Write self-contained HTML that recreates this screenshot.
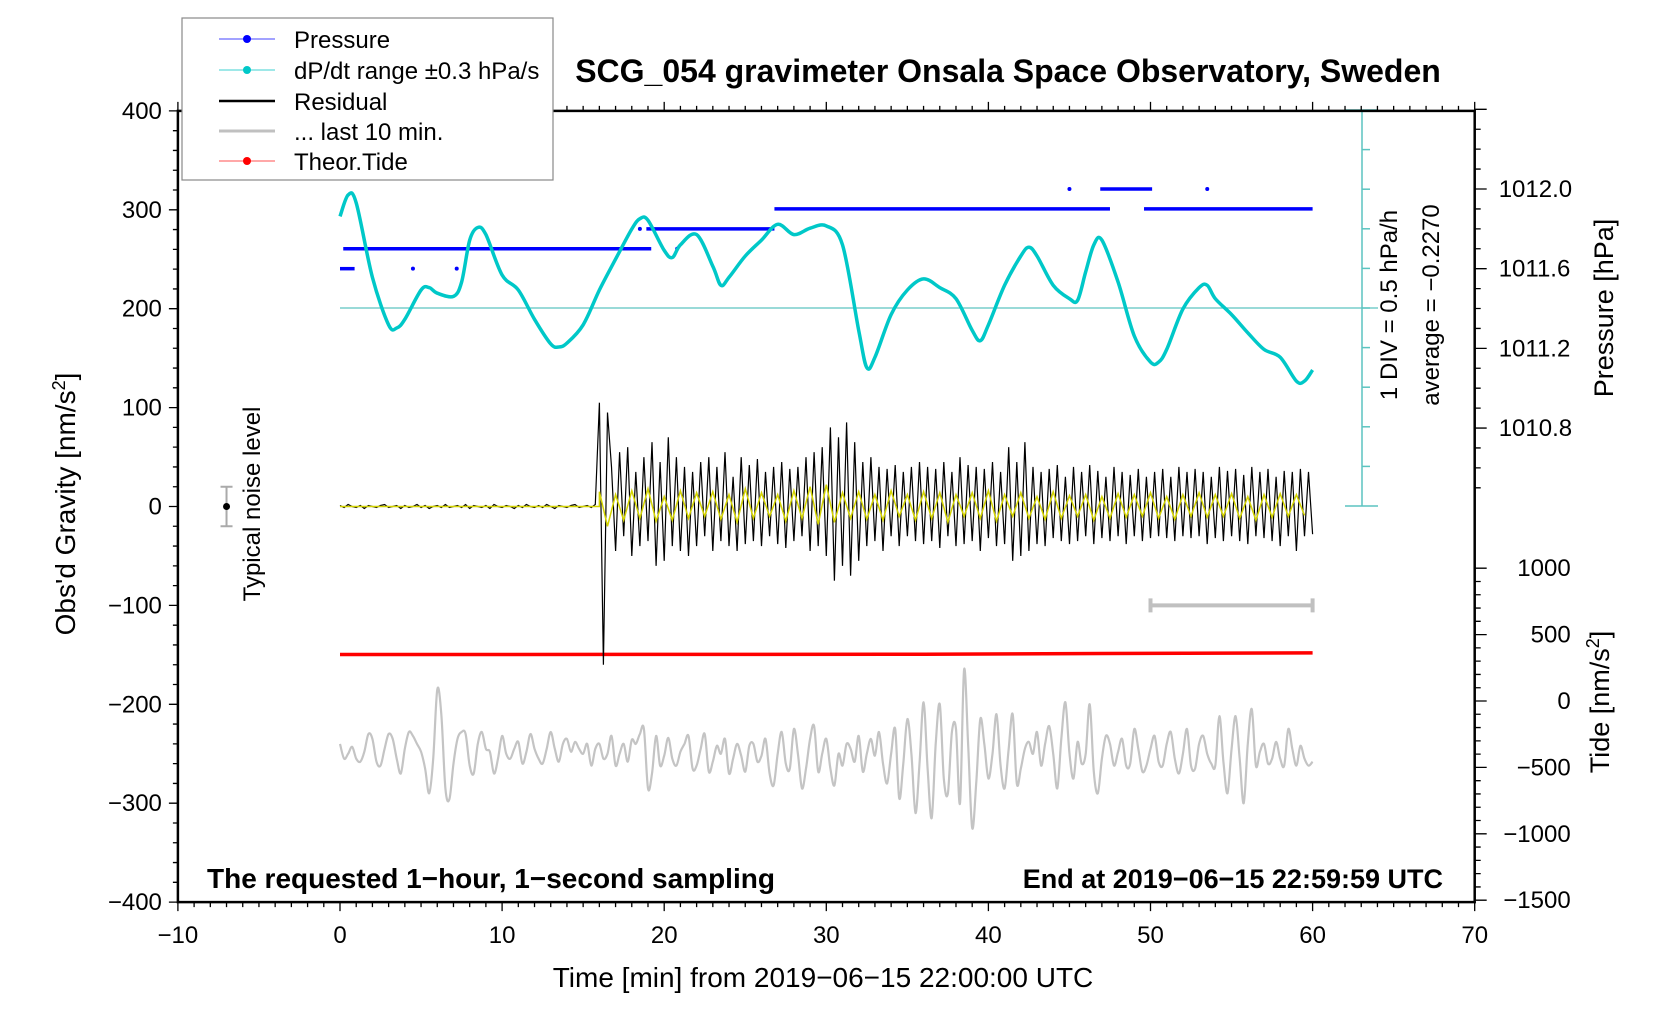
<!DOCTYPE html>
<html><head><meta charset="utf-8"><style>
html,body{margin:0;padding:0;background:#fff;}
svg{display:block;font-family:"Liberation Sans",Arial,sans-serif;}
</style></head><body>
<svg id="chart" width="1676" height="1020" viewBox="0 0 1676 1020" xmlns="http://www.w3.org/2000/svg">
<rect x="0" y="0" width="1676" height="1020" fill="#fff"/>
<g id="marks"></g>
<g id="axes"></g>
<text x="1008" y="82" text-anchor="middle" font-size="32" font-weight="bold">SCG_054 gravimeter Onsala Space Observatory, Sweden</text>
<text x="207" y="888" font-size="28" font-weight="bold">The requested 1−hour, 1−second sampling</text>
<text x="1443" y="888" text-anchor="end" font-size="27" font-weight="bold">End at 2019−06−15 22:59:59 UTC</text>
<text x="823" y="987" text-anchor="middle" font-size="28">Time [min] from 2019−06−15 22:00:00 UTC</text>
<text transform="translate(75,504) rotate(-90)" text-anchor="middle" font-size="28">Obs'd Gravity [nm/s<tspan baseline-shift="super" font-size="18">2</tspan>]</text>
<text transform="translate(260,504) rotate(-90)" text-anchor="middle" font-size="24">Typical noise level</text>
<text transform="translate(1613,308) rotate(-90)" text-anchor="middle" font-size="27">Pressure [hPa]</text>
<text transform="translate(1609,702) rotate(-90)" text-anchor="middle" font-size="27">Tide [nm/s<tspan baseline-shift="super" font-size="18">2</tspan>]</text>
<text transform="translate(1397,305) rotate(-90)" text-anchor="middle" font-size="24">1 DIV = 0.5 hPa/h</text>
<text transform="translate(1439,305) rotate(-90)" text-anchor="middle" font-size="24">average = −0.2270</text>
<g>
<rect x="182" y="18" width="371" height="162" fill="#fff" stroke="#888" stroke-width="1.2"/>
<line x1="219" y1="39" x2="275" y2="39" stroke="#4646ff" stroke-width="1"/><circle cx="247" cy="39" r="4" fill="#0000ff"/>
<text x="294" y="48" font-size="24">Pressure</text>
<line x1="219" y1="70" x2="275" y2="70" stroke="#3cd2d2" stroke-width="1"/><circle cx="247" cy="70" r="4" fill="#00c8c8"/>
<text x="294" y="79" font-size="24">dP/dt range ±0.3 hPa/s</text>
<line x1="219" y1="101" x2="275" y2="101" stroke="#000" stroke-width="2.5"/>
<text x="294" y="110" font-size="24">Residual</text>
<line x1="219" y1="131" x2="275" y2="131" stroke="#c0c0c0" stroke-width="3"/>
<text x="294" y="140" font-size="24">... last 10 min.</text>
<line x1="219" y1="161" x2="275" y2="161" stroke="#ff5050" stroke-width="1"/><circle cx="247" cy="161" r="4" fill="#ff0000"/>
<text x="294" y="170" font-size="24">Theor.Tide</text>
</g>
</svg>
<script>
// ---------- data ----------
const dpTimes=[0,0.5,1,2,3,3.5,4,5,5.5,6,7,7.5,8,8.5,9,10,11,12,13,13.5,14,15,16,17,18,18.5,19,20,20.5,21,22,23,23.5,24,25,26,27,28,29,30,31,32,32.5,33,34,35,36,37,38,39,39.5,40,41,42,42.5,43,44,45,45.5,46,46.5,47,48,49,50,50.5,51,52,53,53.5,54,55,56,57,58,59,59.5,60];
const dpValues=[0.93,1.20,1.10,0.16,-0.44,-0.48,-0.37,0.00,0.03,-0.04,-0.08,0.10,0.63,0.79,0.70,0.19,0.00,-0.37,-0.68,-0.72,-0.67,-0.44,0.00,0.39,0.77,0.90,0.88,0.50,0.41,0.57,0.70,0.30,0.06,0.16,0.43,0.63,0.83,0.70,0.78,0.81,0.57,-0.51,-0.98,-0.85,-0.31,0.00,0.14,0.03,-0.11,-0.51,-0.64,-0.44,0.06,0.43,0.54,0.43,0.06,-0.11,-0.13,0.23,0.57,0.63,0.10,-0.58,-0.91,-0.91,-0.75,-0.24,0.03,0.06,-0.11,-0.31,-0.54,-0.75,-0.85,-1.15,-1.15,-1.01];
const pressStart=[0.0,0.2,18.9,26.8,49.6,46.9];
const pressEnd=[0.9,19.2,26.8,47.5,60.0,50.1];
const pressLevel=[1011.6,1011.7,1011.8,1011.9,1011.9,1012.0];
const pressDotT=[4.5,7.2,18.5,20.8,45.0,53.5];
const pressDotP=[1011.6,1011.6,1011.8,1011.7,1012.0,1012.0];
const tideTimes=[0,36,47,60];
const tideValues=[350,352,358,362];
const residualStep=0.25;
const residual=[1,-1,2,0,-1,1,-2,1,0,-1,1,2,-1,0,1,-2,1,-1,0,2,-1,1,-2,0,1,-1,2,-1,0,1,-1,2,
-2,1,0,-1,1,-2,2,0,-1,1,0,-2,1,-1,2,0,-1,1,-1,2,0,-2,1,0,-1,1,2,-1,0,1,-1,2,
105,-160,95,
40,-45,55,-30,60,-50,35,-40,50,-35,
65,-60,45,-55,70,-40,50,-45,40,-50,
35,-40,45,-30,50,-45,40,-35,55,-40,30,-45,50,-38,42,-35,48,-40,
35,-30,40,-38,45,-42,38,-35,40,-30,50,-45,55,-40,60,-50,
80,-75,70,-60,85,-70,65,-55,
45,-40,50,-35,40,-45,38,-30,42,-40,35,-30,40,-35,45,-38,
40,-35,38,-42,45,-30,35,-40,50,-38,42,-35,40,-45,38,-32,45,-40,35,-38,
60,-55,45,-50,65,-45,40,-38,
35,-40,38,-32,42,-35,30,-38,40,-35,35,-30,42,-38,36,-32,30,-35,40,-30,35,-38,32,-30,38,-35,30,-32,
35,-30,38,-32,30,-35,40,-30,35,-32,38,-30,35,-38,30,-32,40,-35,36,-30,38,-35,32,-38,40,-30,35,-32,38,-35,30,-40,36,-30,35,-45,38,-30,35,-28];
const filteredStart=16;
const filteredStep=0.5;
const filtered=[15,-20,12,-14,16,-12,18,-15,10,-14,16,-12,14,-10,15,-13,12,-16,18,-12,14,-10,12,-15,16,-12,20,-18,22,-16,14,-12,15,-13,12,-14,16,-10,12,-14,15,-12,14,-16,12,-10,14,-12,16,-15,12,-10,14,-12,10,-13,15,-12,11,-10,12,-14,10,-12,13,-11,12,-10,14,-12,10,-13,12,-10,14,-11,12,-10,13,-12,10,-14,12,-11,13,-10,12,-9];
const last10Step=0.25;
const last10=[-240,-255,-250,-243,-255,-258,-248,-230,-235,-258,-262,-245,-230,-235,-255,-270,-245,-228,-232,-240,-248,-265,-290,-255,-185,-210,-285,-296,-260,-235,-228,-230,-262,-270,-240,-228,-245,-248,-270,-255,-232,-250,-255,-245,-238,-260,-248,-230,-245,-255,-260,-245,-228,-245,-258,-240,-235,-248,-238,-245,-250,-240,-262,-245,-240,-255,-250,-232,-262,-250,-240,-258,-236,-240,-230,-225,-285,-270,-232,-262,-252,-234,-255,-262,-248,-240,-232,-265,-262,-245,-230,-268,-258,-242,-250,-235,-270,-255,-240,-252,-268,-242,-240,-258,-252,-235,-270,-282,-250,-228,-260,-265,-225,-250,-285,-265,-235,-222,-268,-250,-235,-265,-282,-250,-262,-240,-245,-258,-232,-268,-250,-235,-252,-228,-260,-280,-250,-225,-295,-260,-215,-250,-310,-260,-198,-265,-315,-240,-200,-275,-290,-228,-225,-300,-165,-240,-325,-280,-215,-240,-275,-250,-210,-262,-285,-245,-210,-280,-265,-245,-238,-250,-228,-262,-240,-222,-250,-285,-235,-198,-250,-275,-238,-260,-250,-200,-268,-290,-255,-232,-240,-262,-248,-235,-262,-260,-225,-245,-268,-262,-245,-232,-258,-262,-240,-228,-255,-270,-250,-225,-262,-265,-240,-232,-250,-260,-262,-212,-258,-290,-245,-212,-255,-300,-240,-205,-262,-248,-240,-260,-255,-238,-255,-262,-225,-245,-262,-242,-255,-262,-258];
const xTickLabels=[-10,0,10,20,30,40,50,60,70];
const yTickLabels=[400,300,200,100,0,-100,-200,-300,-400];
const pTickLabels=[1012.0,1011.6,1011.2,1010.8];
const tideTickLabels=[1000,500,0,-500,-1000,-1500];

// ---------- scales ----------
const tx=t=>340+t*16.21;
const gy=v=>506.5-v*0.989;
const py=p=>189+(1012.0-p)*199.2;
const dy=v=>308-(v+0.227)/0.5*39.6;
const tyd=v=>701-v*0.1328;
const NS='http://www.w3.org/2000/svg';
const marks=document.getElementById('marks');
const axes=document.getElementById('axes');
function mk(tag,attrs,parent){const e=document.createElementNS(NS,tag);for(const k in attrs)e.setAttribute(k,attrs[k]);(parent||marks).appendChild(e);return e;}
function smooth(pts){let d='M'+pts[0][0].toFixed(1)+','+pts[0][1].toFixed(1);
 for(let i=0;i<pts.length-1;i++){const p0=pts[Math.max(0,i-1)],p1=pts[i],p2=pts[i+1],p3=pts[Math.min(pts.length-1,i+2)];
  const c1=[p1[0]+(p2[0]-p0[0])/6,p1[1]+(p2[1]-p0[1])/6],c2=[p2[0]-(p3[0]-p1[0])/6,p2[1]-(p3[1]-p1[1])/6];
  d+='C'+c1[0].toFixed(1)+','+c1[1].toFixed(1)+' '+c2[0].toFixed(1)+','+c2[1].toFixed(1)+' '+p2[0].toFixed(1)+','+p2[1].toFixed(1);}
 return d;}
function poly(pts){return 'M'+pts.map(p=>p[0].toFixed(1)+','+p[1].toFixed(1)).join('L');}

let e;
e=mk('line',{x1:tx(0),y1:308,x2:1378,y2:308,stroke:'#5cc4c0','stroke-width':1.3});


e=mk('line',{x1:1362,y1:110,x2:1362,y2:506,stroke:'#5cc4c0','stroke-width':1.5});


for(let k=0;k<=10;k++){const y=110+k*39.6;const cap=(k===0||k===10);
 e=mk('line',{x1:cap?1345:1362,y1:y,x2:cap?1378:1370,y2:y,stroke:'#5cc4c0','stroke-width':1.5});
 
 }

for(let i=0;i<pressStart.length;i++){
 e=mk('line',{x1:tx(pressStart[i]),y1:py(pressLevel[i]),x2:tx(pressEnd[i]),y2:py(pressLevel[i]),stroke:'#0000ff','stroke-width':3.5});
 
 }
for(let i=0;i<pressDotT.length;i++){
 e=mk('circle',{cx:tx(pressDotT[i]),cy:py(pressDotP[i]),r:2,fill:'#0000ff'});
 
 }

e=mk('path',{d:smooth(dpTimes.map((t,i)=>[tx(t),dy(dpValues[i])])),fill:'none',stroke:'#00c8c8','stroke-width':3.5});



e=mk('path',{d:poly(tideTimes.map((t,i)=>[tx(t),tyd(tideValues[i])])),fill:'none',stroke:'#ff0000','stroke-width':3.5});



e=mk('path',{d:smooth(last10.map((v,i)=>[tx(i*last10Step),gy(v)])),fill:'none',stroke:'#c4c4c4','stroke-width':2.2});



e=mk('path',{d:poly(residual.map((v,i)=>[tx(i*residualStep),gy(v)])),fill:'none',stroke:'#000','stroke-width':1.2});


e=mk('path',{d:poly([[tx(0),gy(0)],[tx(filteredStart),gy(0)]].concat(filtered.map((v,i)=>[tx(filteredStart+i*filteredStep),gy(v)]))),fill:'none',stroke:'#d4d400','stroke-width':1.5});



e=mk('path',{d:`M${tx(-7)},${gy(20)}V${gy(-20)}M${tx(-7)-6},${gy(20)}H${tx(-7)+6}M${tx(-7)-6},${gy(-20)}H${tx(-7)+6}`,stroke:'#aaa','stroke-width':2,fill:'none'});


e=mk('circle',{cx:tx(-7),cy:gy(0),r:3.5,fill:'#000'});


e=mk('path',{d:`M${tx(50)},${gy(-100)}H${tx(60)}M${tx(50)},${gy(-100)-7}V${gy(-100)+7}M${tx(60)},${gy(-100)-7}V${gy(-100)+7}`,stroke:'#c0c0c0','stroke-width':4,fill:'none'});



const L=tx(-10),R=tx(70),T=gy(400),B=gy(-400);
e=mk('rect',{x:L,y:T,width:R-L,height:B-T,fill:'none',stroke:'#000','stroke-width':2.5},axes);


let tk='';
for(let m=-10;m<=70;m++){const x=tx(m);const big=m%10===0;tk+=`M${x},${B}v${big?9:5}M${x},${T}v${big?-9:-5}`;}
for(let v=-400;v<=400;v+=20){const y=gy(v);tk+=`M${L},${y}h${v%100===0?-9:-5}`;}
for(let k=0;k<=19;k++){const p=1012.4-k*0.1;const y=py(p);const big=Math.abs(Math.round(p*10)%4)===0;tk+=`M${R},${y}h${big?12:6}`;}
for(let v=-1500;v<=1000;v+=100){const y=tyd(v);tk+=`M${R},${y}h${v%500===0?12:6}`;}
e=mk('path',{d:tk,stroke:'#000','stroke-width':1.3,fill:'none'},axes);


xTickLabels.forEach(v=>{const t=mk('text',{x:tx(v),y:B+41,'text-anchor':'middle','font-size':24},axes);t.textContent=String(v).replace('-','−');
 
 });
yTickLabels.forEach(v=>{const t=mk('text',{x:L-16,y:gy(v)+8,'text-anchor':'end','font-size':24},axes);t.textContent=String(v).replace('-','−');
 
 });
pTickLabels.forEach(v=>{const t=mk('text',{x:R+24,y:py(v)+8,'font-size':24},axes);t.textContent=v.toFixed(1);
 
 });
tideTickLabels.forEach(v=>{const t=mk('text',{x:R+96,y:tyd(v)+8,'text-anchor':'end','font-size':24},axes);t.textContent=String(v).replace('-','−');
 
 });
</script>
</body></html>
